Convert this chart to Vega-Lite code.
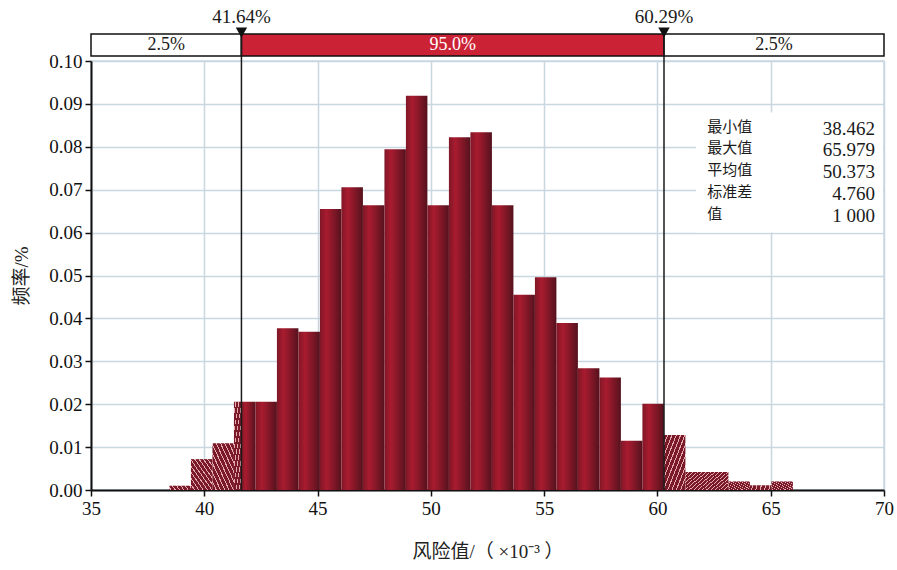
{
  "$schema": "https://vega.github.io/schema/vega-lite/v6.json",
  "autosize": {"type": "none"},
  "width": 793,
  "height": 429,
  "padding": {"left": 91, "top": 61, "right": 13, "bottom": 80},
  "background": "white",
  "config": {
    "view": {"stroke": "#c9d7e1", "strokeWidth": 1.5},
    "font": "Liberation Serif, Noto Sans CJK SC",
    "scale": {"continuousPadding": 0},
    "axis": {
      "grid": true,
      "gridColor": "#c9d7e1",
      "gridWidth": 1.5,
      "domainColor": "#111111",
      "domainWidth": 2,
      "tickColor": "#111111",
      "tickWidth": 1.5,
      "tickSize": 6,
      "labelFont": "Liberation Serif",
      "labelFontSize": 19,
      "labelColor": "#111111",
      "labelFlush": false,
      "labelOverlap": false,
      "titleFont": "Liberation Serif, Noto Sans CJK SC",
      "titleFontSize": 19,
      "titleFontWeight": "normal",
      "titleColor": "#222222"
    }
  },
  "datasets": {
    "hist": [
      {"x0": 38.462, "x1": 39.411, "freq": 0.001, "zone": "lt"},
      {"x0": 39.411, "x1": 40.360, "freq": 0.0072, "zone": "lt"},
      {"x0": 40.360, "x1": 41.309, "freq": 0.0109, "zone": "lt"},
      {"x0": 41.309, "x1": 41.64, "freq": 0.0206, "zone": "lt"},
      {"x0": 41.64, "x1": 42.258, "freq": 0.0206, "zone": "mid"},
      {"x0": 42.258, "x1": 43.206, "freq": 0.0206, "zone": "mid"},
      {"x0": 43.206, "x1": 44.155, "freq": 0.0377, "zone": "mid"},
      {"x0": 44.155, "x1": 45.104, "freq": 0.0369, "zone": "mid"},
      {"x0": 45.104, "x1": 46.053, "freq": 0.0655, "zone": "mid"},
      {"x0": 46.053, "x1": 47.002, "freq": 0.0706, "zone": "mid"},
      {"x0": 47.002, "x1": 47.951, "freq": 0.0664, "zone": "mid"},
      {"x0": 47.951, "x1": 48.899, "freq": 0.0794, "zone": "mid"},
      {"x0": 48.899, "x1": 49.848, "freq": 0.0919, "zone": "mid"},
      {"x0": 49.848, "x1": 50.797, "freq": 0.0664, "zone": "mid"},
      {"x0": 50.797, "x1": 51.746, "freq": 0.0822, "zone": "mid"},
      {"x0": 51.746, "x1": 52.695, "freq": 0.0834, "zone": "mid"},
      {"x0": 52.695, "x1": 53.644, "freq": 0.0664, "zone": "mid"},
      {"x0": 53.644, "x1": 54.593, "freq": 0.0455, "zone": "mid"},
      {"x0": 54.593, "x1": 55.541, "freq": 0.0496, "zone": "mid"},
      {"x0": 55.541, "x1": 56.490, "freq": 0.0389, "zone": "mid"},
      {"x0": 56.490, "x1": 57.439, "freq": 0.0284, "zone": "mid"},
      {"x0": 57.439, "x1": 58.388, "freq": 0.0262, "zone": "mid"},
      {"x0": 58.388, "x1": 59.337, "freq": 0.0115, "zone": "mid"},
      {"x0": 59.337, "x1": 60.286, "freq": 0.0201, "zone": "mid"},
      {"x0": 60.286, "x1": 61.235, "freq": 0.0128, "zone": "rt"},
      {"x0": 61.235, "x1": 62.184, "freq": 0.0042, "zone": "rt"},
      {"x0": 62.184, "x1": 63.133, "freq": 0.0042, "zone": "rt"},
      {"x0": 63.133, "x1": 64.081, "freq": 0.0020, "zone": "rt"},
      {"x0": 64.081, "x1": 65.030, "freq": 0.0011, "zone": "rt"},
      {"x0": 65.030, "x1": 65.979, "freq": 0.0020, "zone": "rt"}
    ],
    "band": [
      {"lo": 35, "hi": 41.64, "pct": "2.5%", "part": "tail"},
      {"lo": 41.64, "hi": 60.29, "pct": "95.0%", "part": "mid"},
      {"lo": 60.29, "hi": 70, "pct": "2.5%", "part": "tail"}
    ],
    "cuts": [
      {"x": 41.64, "label": "41.64%"},
      {"x": 60.29, "label": "60.29%"}
    ],
    "stats": [
      {"stat": "最小值", "value": "38.462"},
      {"stat": "最大值", "value": "65.979"},
      {"stat": "平均值", "value": "50.373"},
      {"stat": "标准差", "value": "4.760"},
      {"stat": "值", "value": "1 000"}
    ]
  },
  "layer": [
    {
      "data": {"values": [{}]},
      "mark": {"type": "rect", "fill": "white", "stroke": null},
      "encoding": {
        "x": {"datum": 61.7, "type": "quantitative", "scale": {"domain": [35, 70], "nice": false, "zero": false, "padding": 0},
          "axis": {"values": [35, 40, 45, 50, 55, 60, 65, 70], "title": "风险值/（ ×10⁻³ ）", "labelPadding": 3, "titlePadding": 24}},
        "x2": {"datum": 69.95},
        "y": {"datum": 0.0880, "type": "quantitative", "scale": {"domain": [0, 0.1], "nice": false, "zero": true, "padding": 0},
          "axis": {"values": [0, 0.01, 0.02, 0.03, 0.04, 0.05, 0.06, 0.07, 0.08, 0.09, 0.1], "format": ".2f", "title": "频率/%", "labelPadding": 3, "titlePadding": 17}},
        "y2": {"datum": 0.0600}
      }
    },
    {
      "data": {"name": "hist"},
      "transform": [{"filter": "datum.zone === 'mid'"}],
      "mark": {"type": "rect", "fill": {"gradient": "linear", "x1": 0, "y1": 0, "x2": 1, "y2": 0, "stops": [
        {"offset": 0, "color": "#7f1727"},
        {"offset": 0.3, "color": "#a91b2f"},
        {"offset": 0.65, "color": "#801727"},
        {"offset": 1, "color": "#55121d"}
      ]}},
      "encoding": {
        "x": {"field": "x0", "type": "quantitative"},
        "x2": {"field": "x1"},
        "y": {"field": "freq", "type": "quantitative"},
        "y2": {"datum": 0}
      }
    },
    {
      "data": {"name": "hist"},
      "transform": [{"filter": "datum.zone === 'lt'"}],
      "mark": {"type": "rect", "fill": {"gradient": "linear", "x1": 0, "y1": 1, "x2": 1, "y2": 0, "stops": [
        {"offset": 0, "color": "#7a1a29"}, {"offset": 0.075, "color": "#7a1a29"}, {"offset": 0.075, "color": "#e6aab3"}, {"offset": 0.1, "color": "#e6aab3"},
        {"offset": 0.1, "color": "#7a1a29"}, {"offset": 0.175, "color": "#7a1a29"}, {"offset": 0.175, "color": "#e6aab3"}, {"offset": 0.2, "color": "#e6aab3"},
        {"offset": 0.2, "color": "#7a1a29"}, {"offset": 0.275, "color": "#7a1a29"}, {"offset": 0.275, "color": "#e6aab3"}, {"offset": 0.3, "color": "#e6aab3"},
        {"offset": 0.3, "color": "#7a1a29"}, {"offset": 0.375, "color": "#7a1a29"}, {"offset": 0.375, "color": "#e6aab3"}, {"offset": 0.4, "color": "#e6aab3"},
        {"offset": 0.4, "color": "#7a1a29"}, {"offset": 0.475, "color": "#7a1a29"}, {"offset": 0.475, "color": "#e6aab3"}, {"offset": 0.5, "color": "#e6aab3"},
        {"offset": 0.5, "color": "#7a1a29"}, {"offset": 0.575, "color": "#7a1a29"}, {"offset": 0.575, "color": "#e6aab3"}, {"offset": 0.6, "color": "#e6aab3"},
        {"offset": 0.6, "color": "#7a1a29"}, {"offset": 0.675, "color": "#7a1a29"}, {"offset": 0.675, "color": "#e6aab3"}, {"offset": 0.7, "color": "#e6aab3"},
        {"offset": 0.7, "color": "#7a1a29"}, {"offset": 0.775, "color": "#7a1a29"}, {"offset": 0.775, "color": "#e6aab3"}, {"offset": 0.8, "color": "#e6aab3"},
        {"offset": 0.8, "color": "#7a1a29"}, {"offset": 0.875, "color": "#7a1a29"}, {"offset": 0.875, "color": "#e6aab3"}, {"offset": 0.9, "color": "#e6aab3"},
        {"offset": 0.9, "color": "#7a1a29"}, {"offset": 0.975, "color": "#7a1a29"}, {"offset": 0.975, "color": "#e6aab3"}, {"offset": 1, "color": "#e6aab3"}
      ]}},
      "encoding": {
        "x": {"field": "x0", "type": "quantitative"},
        "x2": {"field": "x1"},
        "y": {"field": "freq", "type": "quantitative"},
        "y2": {"datum": 0}
      }
    },
    {
      "data": {"name": "hist"},
      "transform": [{"filter": "datum.zone === 'rt'"}],
      "mark": {"type": "rect", "fill": {"gradient": "linear", "x1": 0, "y1": 0, "x2": 1, "y2": 1, "stops": [
        {"offset": 0, "color": "#7a1a29"}, {"offset": 0.075, "color": "#7a1a29"}, {"offset": 0.075, "color": "#e6aab3"}, {"offset": 0.1, "color": "#e6aab3"},
        {"offset": 0.1, "color": "#7a1a29"}, {"offset": 0.175, "color": "#7a1a29"}, {"offset": 0.175, "color": "#e6aab3"}, {"offset": 0.2, "color": "#e6aab3"},
        {"offset": 0.2, "color": "#7a1a29"}, {"offset": 0.275, "color": "#7a1a29"}, {"offset": 0.275, "color": "#e6aab3"}, {"offset": 0.3, "color": "#e6aab3"},
        {"offset": 0.3, "color": "#7a1a29"}, {"offset": 0.375, "color": "#7a1a29"}, {"offset": 0.375, "color": "#e6aab3"}, {"offset": 0.4, "color": "#e6aab3"},
        {"offset": 0.4, "color": "#7a1a29"}, {"offset": 0.475, "color": "#7a1a29"}, {"offset": 0.475, "color": "#e6aab3"}, {"offset": 0.5, "color": "#e6aab3"},
        {"offset": 0.5, "color": "#7a1a29"}, {"offset": 0.575, "color": "#7a1a29"}, {"offset": 0.575, "color": "#e6aab3"}, {"offset": 0.6, "color": "#e6aab3"},
        {"offset": 0.6, "color": "#7a1a29"}, {"offset": 0.675, "color": "#7a1a29"}, {"offset": 0.675, "color": "#e6aab3"}, {"offset": 0.7, "color": "#e6aab3"},
        {"offset": 0.7, "color": "#7a1a29"}, {"offset": 0.775, "color": "#7a1a29"}, {"offset": 0.775, "color": "#e6aab3"}, {"offset": 0.8, "color": "#e6aab3"},
        {"offset": 0.8, "color": "#7a1a29"}, {"offset": 0.875, "color": "#7a1a29"}, {"offset": 0.875, "color": "#e6aab3"}, {"offset": 0.9, "color": "#e6aab3"},
        {"offset": 0.9, "color": "#7a1a29"}, {"offset": 0.975, "color": "#7a1a29"}, {"offset": 0.975, "color": "#e6aab3"}, {"offset": 1, "color": "#e6aab3"}
      ]}},
      "encoding": {
        "x": {"field": "x0", "type": "quantitative"},
        "x2": {"field": "x1"},
        "y": {"field": "freq", "type": "quantitative"},
        "y2": {"datum": 0}
      }
    },
    {
      "data": {"name": "band"},
      "mark": {"type": "rect", "stroke": "#111111", "strokeWidth": 1.5},
      "encoding": {
        "x": {"field": "lo", "type": "quantitative"},
        "x2": {"field": "hi"},
        "y": {"datum": 0.10117},
        "y2": {"datum": 0.10629},
        "fill": {"condition": {"test": "datum.part === 'mid'", "value": "#cc2236"}, "value": "white"}
      }
    },
    {
      "data": {"name": "band"},
      "transform": [{"calculate": "(datum.lo + datum.hi) / 2", "as": "mid"}],
      "mark": {"type": "text", "fontSize": 18, "font": "Liberation Serif", "baseline": "middle", "align": "center"},
      "encoding": {
        "x": {"field": "mid", "type": "quantitative"},
        "y": {"datum": 0.10373},
        "text": {"field": "pct"},
        "fill": {"condition": {"test": "datum.part === 'mid'", "value": "white"}, "value": "#1a1a1a"}
      }
    },
    {
      "data": {"name": "cuts"},
      "mark": {"type": "rule", "color": "#1a1a1a", "strokeWidth": 1.5},
      "encoding": {
        "x": {"field": "x", "type": "quantitative"},
        "y": {"datum": 0},
        "y2": {"datum": 0.10629}
      }
    },
    {
      "data": {"name": "cuts"},
      "mark": {"type": "point", "shape": "triangle-down", "filled": true, "size": 130, "color": "#111111", "opacity": 1},
      "encoding": {
        "x": {"field": "x", "type": "quantitative"},
        "y": {"datum": 0.10664}
      }
    },
    {
      "data": {"name": "cuts"},
      "mark": {"type": "text", "fontSize": 19, "font": "Liberation Serif", "baseline": "middle", "align": "center", "color": "#1a1a1a"},
      "encoding": {
        "x": {"field": "x", "type": "quantitative"},
        "y": {"datum": 0.11026},
        "text": {"field": "label"}
      }
    },
    {
      "data": {"name": "stats"},
      "transform": [
        {"aggregate": [{"op": "values", "as": "rows"}]},
        {"calculate": "pluck(datum.rows, 'stat')", "as": "labels"}
      ],
      "mark": {"type": "text", "align": "left", "baseline": "top", "fontSize": 15, "lineHeight": 21.8, "font": "Noto Sans CJK SC", "color": "#1a1a1a"},
      "encoding": {
        "x": {"datum": 62.2},
        "y": {"datum": 0.08636},
        "text": {"field": "labels"}
      }
    },
    {
      "data": {"name": "stats"},
      "transform": [
        {"aggregate": [{"op": "values", "as": "rows"}]},
        {"calculate": "pluck(datum.rows, 'value')", "as": "vals"}
      ],
      "mark": {"type": "text", "align": "right", "baseline": "top", "fontSize": 19, "lineHeight": 21.8, "font": "Liberation Serif", "color": "#1a1a1a"},
      "encoding": {
        "x": {"datum": 69.6},
        "y": {"datum": 0.08636},
        "text": {"field": "vals"}
      }
    }
  ]
}
